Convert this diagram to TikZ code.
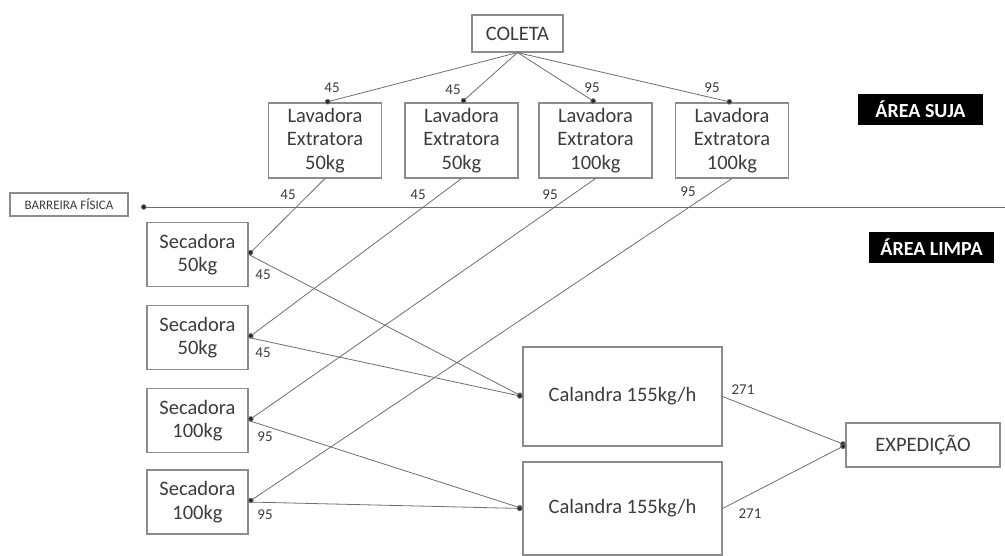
\documentclass[tikz,border=0pt]{standalone}
\usepackage{fontspec}
\setmainfont{Carlito}
\usepackage{tikz}
\usetikzlibrary{arrows.meta, positioning, calc}
\definecolor{FluxoLinha}{RGB}{110, 110, 110}
\definecolor{FluxoBorda}{RGB}{140, 140, 140}
\definecolor{FluxoTexto}{RGB}{60, 60, 60}

\tikzset{
  caixa/.style={draw=FluxoBorda, line width=1.1pt, fill=white, text=FluxoTexto, align=center,
    inner sep=0pt, font=\fontsize{20.5}{23.5}\selectfont},
  etiqueta/.style={fill=black, text=white, inner sep=0pt, font=\fontsize{20}{22}\selectfont\bfseries},
  fluxo/.style={draw=FluxoLinha, line width=0.8pt, -{Circle[length=5.5pt, fill=black!85]}},
  qtd/.style={text=FluxoTexto, inner sep=0pt, font=\fontsize{15}{16}\selectfont}
}

\begin{document}
\begin{tikzpicture}[x=1pt, y=-1pt]
    \useasboundingbox (0,0) rectangle (1005,555);

    % area suja
    \node[caixa, minimum width=91pt, minimum height=37pt] (coleta) at (517.5,33.5) {COLETA};
    \node[caixa, minimum width=113pt, minimum height=75pt] (lav1) at (325,140.5) {Lavadora\\Extratora\\50kg};
    \node[caixa, minimum width=113pt, minimum height=75pt] (lav2) at (461.5,140.5) {Lavadora\\Extratora\\50kg};
    \node[caixa, minimum width=113pt, minimum height=75pt] (lav3) at (595.5,140.5) {Lavadora\\Extratora\\100kg};
    \node[caixa, minimum width=113pt, minimum height=75pt] (lav4) at (732,140.5) {Lavadora\\Extratora\\100kg};
    \node[etiqueta, minimum width=125pt, minimum height=31pt] (suja) at (920.5,109.5) {ÁREA SUJA};

    % barreira
    \node[caixa, minimum width=118pt, minimum height=23pt, font=\fontsize{13}{14}\selectfont] (barreira) at (69,204.5) {BARREIRA FÍSICA};
    \coordinate (barR) at (1005,207);
    \coordinate (barL) at (141,207);
    \draw[fluxo] (barR) -- (barL);

    % area limpa
    \node[etiqueta, minimum width=125pt, minimum height=31pt] (limpa) at (931.5,247.5) {ÁREA LIMPA};
    \node[caixa, minimum width=101pt, minimum height=64pt] (sec1) at (197.5,254.5) {Secadora\\50kg};
    \node[caixa, minimum width=101pt, minimum height=64pt] (sec2) at (197.5,337.5) {Secadora\\50kg};
    \node[caixa, minimum width=101pt, minimum height=64pt] (sec3) at (197.5,420.5) {Secadora\\100kg};
    \node[caixa, minimum width=101pt, minimum height=64pt] (sec4) at (197.5,502) {Secadora\\100kg};
    \node[caixa, minimum width=199pt, minimum height=99pt] (cal1) at (622.5,396.5) {Calandra 155kg/h};
    \node[caixa, minimum width=199pt, minimum height=93pt] (cal2) at (622.5,508.5) {Calandra 155kg/h};
    \node[caixa, minimum width=154pt, minimum height=44pt] (exped) at (923,445) {EXPEDIÇÃO};

    % fluxos
    \draw[fluxo] (coleta.south) -- (lav1.north);
    \draw[fluxo] (coleta.south) -- (lav2.north);
    \draw[fluxo] (coleta.south) -- (lav3.north);
    \draw[fluxo] (coleta.south) -- (lav4.north);
    \draw[fluxo] (lav1.south) -- (sec1.east);
    \draw[fluxo] (lav2.south) -- (sec2.east);
    \draw[fluxo] (lav3.south) -- (sec3.east);
    \draw[fluxo] (lav4.south) -- (sec4.east);
    \draw[fluxo] (sec1.east) -- (cal1.west);
    \draw[fluxo] (sec2.east) -- (cal1.west);
    \draw[fluxo] (sec3.east) -- (cal2.west);
    \draw[fluxo] (sec4.east) -- (cal2.west);
    \draw[fluxo] (cal1.east) -- (exped.west);
    \draw[fluxo] (cal2.east) -- (exped.west);

    % quantidades
    \node[qtd] (q1) at (332,88) {45};
    \node[qtd] (q2) at (453,90) {45};
    \node[qtd] (q3) at (592,88) {95};
    \node[qtd] (q4) at (712,88) {95};
    \node[qtd] (q5) at (288,195) {45};
    \node[qtd] (q6) at (418,195) {45};
    \node[qtd] (q7) at (550,195) {95};
    \node[qtd] (q8) at (688,192) {95};
    \node[qtd] (q9) at (263,275) {45};
    \node[qtd] (q10) at (263,353) {45};
    \node[qtd] (q11) at (265,437) {95};
    \node[qtd] (q12) at (265,515) {95};
    \node[qtd] (q13) at (743,390) {271};
    \node[qtd] (q14) at (750,514) {271};
\end{tikzpicture}
\end{document}
